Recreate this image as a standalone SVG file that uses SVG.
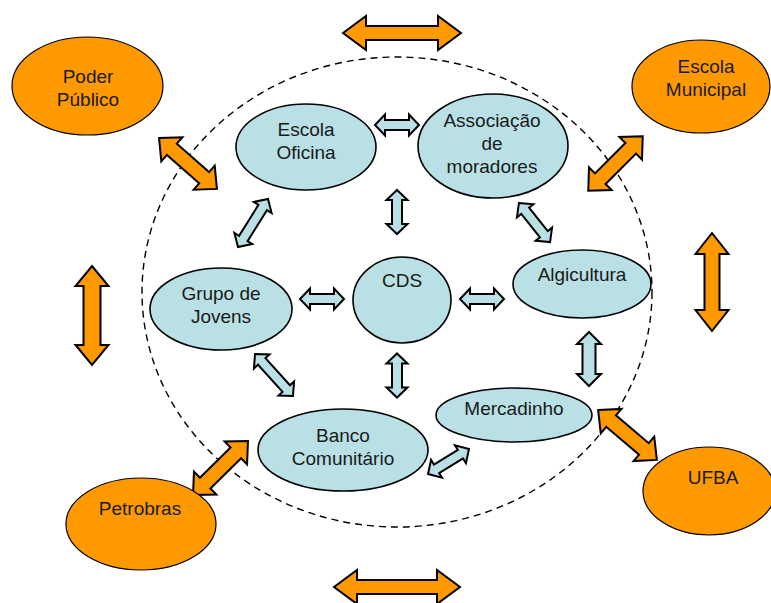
<svg xmlns="http://www.w3.org/2000/svg" xmlns:xlink="http://www.w3.org/1999/xlink" width="771" height="603" viewBox="0 0 771 603">
  <style>
    .outer { fill: #ff9900; stroke: #000; stroke-width: 1.2; }
    .inner { fill: #b9e0e4; stroke: #000; stroke-width: 1.6; }
    .oArrow { fill: #ff9900; stroke: #000; stroke-width: 2; stroke-linejoin: miter; }
    .bArrow { fill: #b9e0e4; stroke: #000; stroke-width: 2; stroke-linejoin: miter; }
    .lbl { font-family: "Liberation Sans", Arial, sans-serif; font-size: 19px; fill: #1a1a1a; text-anchor: middle; }
    .boundary { fill: none; stroke: #000; stroke-width: 1.4; stroke-dasharray: 7 5; }
  </style>
  <defs>
    <!-- double-headed block arrows, drawn along the x axis around the origin -->
    <path id="oDiag" d="M-38.5,0 L-21.5,-16 L-21.5,-7.5 L21.5,-7.5 L21.5,-16 L38.5,0 L21.5,16 L21.5,7.5 L-21.5,7.5 L-21.5,16 Z"/>
    <path id="b44" d="M-22,0 L-12,-10.5 L-12,-5 L12,-5 L12,-10.5 L22,0 L12,10.5 L12,5 L-12,5 L-12,10.5 Z"/>
    <path id="b56" d="M-28.3,0 L-18.3,-10.5 L-18.3,-5 L18.3,-5 L18.3,-10.5 L28.3,0 L18.3,10.5 L18.3,5 L-18.3,5 L-18.3,10.5 Z"/>
  </defs>
  <rect width="771" height="603" fill="#fff"/>

  <!-- community boundary -->
  <g id="boundary">
    <ellipse class="boundary" cx="397" cy="292" rx="255" ry="235"/>
  </g>

  <g id="connectors">
    <!-- outer links -->
    <path class="oArrow" transform="translate(402,33)" d="M-59,0 L-36,-17 L-36,-7 L36,-7 L36,-17 L59,0 L36,17 L36,7 L-36,7 L-36,17 Z"/>
    <path class="oArrow" transform="translate(397,587)" d="M-63,0 L-40,-17 L-40,-7 L40,-7 L40,-17 L63,0 L40,17 L40,7 L-40,7 L-40,17 Z"/>
    <path class="oArrow" transform="translate(92,315.5) rotate(90)" d="M-49.5,0 L-29.5,-16.5 L-29.5,-8.5 L29.5,-8.5 L29.5,-16.5 L49.5,0 L29.5,16.5 L29.5,8.5 L-29.5,8.5 L-29.5,16.5 Z"/>
    <path class="oArrow" transform="translate(712,282) rotate(90)" d="M-49,0 L-28,-16.5 L-28,-7.5 L28,-7.5 L28,-16.5 L49,0 L28,16.5 L28,7.5 L-28,7.5 L-28,16.5 Z"/>
    <use class="oArrow" xlink:href="#oDiag" transform="translate(188,163.5) rotate(41.3)"/>
    <use class="oArrow" xlink:href="#oDiag" transform="translate(615.5,163.5) rotate(-45)"/>
    <use class="oArrow" xlink:href="#oDiag" transform="translate(627.5,435) rotate(40.3)"/>
    <use class="oArrow" xlink:href="#oDiag" transform="translate(220.5,468) rotate(-44.5)"/>

    <!-- inner links -->
    <use class="bArrow" xlink:href="#b44" transform="translate(397,125)"/>
    <use class="bArrow" xlink:href="#b44" transform="translate(397,212) rotate(90)"/>
    <use class="bArrow" xlink:href="#b56" transform="translate(253,223) rotate(122)"/>
    <path class="bArrow" transform="translate(534.5,222.5) rotate(51.5)" d="M-25,0 L-15,-10.5 L-15,-5 L15,-5 L15,-10.5 L25,0 L15,10.5 L15,5 L-15,5 L-15,10.5 Z"/>
    <use class="bArrow" xlink:href="#b44" transform="translate(322,299)"/>
    <use class="bArrow" xlink:href="#b44" transform="translate(482,299)"/>
    <use class="bArrow" xlink:href="#b44" transform="translate(397,375.5) rotate(90)"/>
    <path class="bArrow" transform="translate(589,359) rotate(90)" d="M-27,0 L-15,-12 L-15,-6.5 L15,-6.5 L15,-12 L27,0 L15,12 L15,6.5 L-15,6.5 L-15,12 Z"/>
    <use class="bArrow" xlink:href="#b56" transform="translate(274,375) rotate(47.9)"/>
    <path class="bArrow" transform="translate(448.5,461.5) rotate(-31.4)" d="M-24,0 L-14,-10.5 L-14,-5 L14,-5 L14,-10.5 L24,0 L14,10.5 L14,5 L-14,5 L-14,10.5 Z"/>
  </g>

  <!-- outer partners -->
  <g id="poder-publico">
    <ellipse class="outer" cx="87.5" cy="86" rx="75.5" ry="49"/>
    <text class="lbl" x="88" y="83">Poder</text>
    <text class="lbl" x="88" y="106">Público</text>
  </g>
  <g id="escola-municipal">
    <ellipse class="outer" cx="701" cy="86.5" rx="69" ry="46.5"/>
    <text class="lbl" x="706" y="73">Escola</text>
    <text class="lbl" x="706" y="96">Municipal</text>
  </g>
  <g id="ufba">
    <ellipse class="outer" cx="709" cy="491" rx="66" ry="44"/>
    <text class="lbl" x="713" y="484">UFBA</text>
  </g>
  <g id="petrobras">
    <ellipse class="outer" cx="141" cy="524" rx="75" ry="46"/>
    <text class="lbl" x="140" y="515">Petrobras</text>
  </g>

  <!-- community actors -->
  <g id="escola-oficina">
    <ellipse class="inner" cx="306" cy="147" rx="70" ry="43"/>
    <text class="lbl" x="306" y="136">Escola</text>
    <text class="lbl" x="306" y="159">Oficina</text>
  </g>
  <g id="associacao">
    <ellipse class="inner" cx="493" cy="146" rx="75" ry="52"/>
    <text class="lbl" x="492" y="127">Associação</text>
    <text class="lbl" x="492" y="150">de</text>
    <text class="lbl" x="492" y="173">moradores</text>
  </g>
  <g id="grupo-jovens">
    <ellipse class="inner" cx="221" cy="309" rx="71" ry="41"/>
    <text class="lbl" x="221" y="300">Grupo de</text>
    <text class="lbl" x="221" y="323">Jovens</text>
  </g>
  <g id="cds">
    <ellipse class="inner" cx="402" cy="300" rx="49" ry="43"/>
    <text class="lbl" x="402" y="287">CDS</text>
  </g>
  <g id="algicultura">
    <ellipse class="inner" cx="582" cy="284" rx="69" ry="34"/>
    <text class="lbl" x="582" y="281">Algicultura</text>
  </g>
  <g id="mercadinho">
    <ellipse class="inner" cx="514" cy="415" rx="78" ry="27"/>
    <text class="lbl" x="514" y="415">Mercadinho</text>
  </g>
  <g id="banco-comunitario">
    <ellipse class="inner" cx="343" cy="450" rx="85" ry="41"/>
    <text class="lbl" x="343" y="442">Banco</text>
    <text class="lbl" x="343" y="465">Comunitário</text>
  </g>
</svg>
